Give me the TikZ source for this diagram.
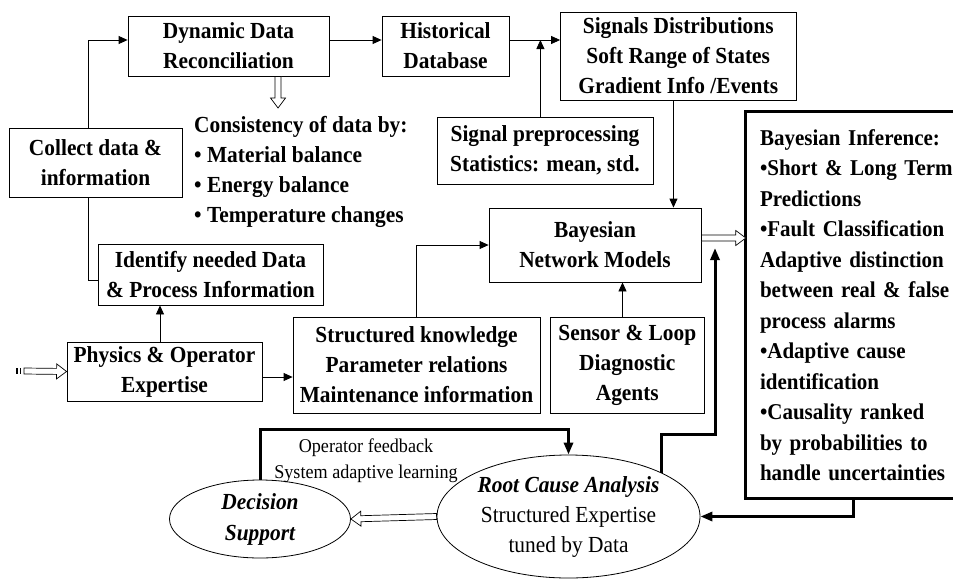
\documentclass[tikz,border=0pt]{standalone}
\usepackage{fontspec}
\setmainfont{Liberation Serif}[FakeStretch=0.93]
\usetikzlibrary{arrows.meta,calc,shapes.geometric}

% open block arrow between two points
\newcommand{\fatarrow}[2]{%
  \draw[hollow] let \p1=(#1), \p2=(#2),
      \n1={atan2(\y2-\y1,\x2-\x1)}, \n2={veclen(\x2-\x1,\y2-\y1)} in
    [shift={(\p1)},rotate=\n1]
    (0pt,-3pt) -- ({\n2*1pt-10pt},-3pt) -- ({\n2*1pt-10pt},-7.5pt)
    -- ({\n2*1pt},0pt) -- ({\n2*1pt-10pt},7.5pt) -- ({\n2*1pt-10pt},3pt)
    -- (0pt,3pt) -- cycle;}

\begin{document}
\begin{tikzpicture}[x=1pt,y=-1pt,
    box/.style={draw,line width=0.8pt,inner sep=2pt,align=center,
        font=\fontsize{23}{30}\selectfont\bfseries},
    infobox/.style={inner xsep=14pt,align=left,
        font=\fontsize{22.6}{30.5}\selectfont\bfseries},
    frame/.style={line width=3pt,line join=miter},
    oval/.style={draw,ellipse,line width=0.8pt,inner sep=0pt,align=center,
        font=\fontsize{23}{30}\selectfont},
    note/.style={align=left,inner xsep=0pt,inner ysep=8pt,
        font=\fontsize{23}{30}\selectfont\bfseries},
    flow/.style={-{Triangle[length=9pt,width=8pt]},line width=0.8pt},
    heavy/.style={-{Triangle[length=12pt,width=9pt]},line width=3pt},
    branch/.style={line width=0.8pt},
    hollow/.style={draw,fill=white,line width=0.7pt,line join=miter}
]
    \useasboundingbox (0,0) rectangle (953,579);
    \clip (0,0) rectangle (953,579);

    % upper row
    \node[box,minimum width=201pt,minimum height=60pt] (ddr) at (228.5,46)
        {Dynamic Data\\Reconciliation};
    \node[box,minimum width=127pt,minimum height=60pt] (hist) at (445.5,46)
        {Historical\\Database};
    \node[box,minimum width=235.5pt,minimum height=88pt] (sig) at (678.25,56)
        {Signals Distributions\\Soft Range of States\\Gradient Info /Events};
    \node[box,minimum width=216pt,minimum height=67pt] (prep) at (545,150.5)
        {Signal preprocessing\\Statistics: mean, std.};
    \node[note,anchor=north west] (cons) at (194,108)
        {Consistency of data by:\\• Material balance\\• Energy balance\\• Temperature changes};

    % left column
    \node[box,minimum width=173pt,minimum height=69pt] (collect) at (95.5,162.5)
        {Collect data \&\\information};
    \node[box,minimum width=225pt,minimum height=61pt] (ident) at (210.5,274.5)
        {Identify needed Data\\\& Process Information};
    \node[box,minimum width=195pt,minimum height=59pt] (phys) at (164.5,371.5)
        {Physics \& Operator\\Expertise};

    % middle
    \node[box,minimum width=247pt,minimum height=96pt] (struct) at (416.5,365)
        {Structured knowledge\\Parameter relations\\Maintenance information};
    \node[box,minimum width=212pt,minimum height=74pt] (bnm) at (595,245)
        {Bayesian\\Network Models};
    \node[box,minimum width=153.4pt,minimum height=96pt] (sens) at (627.3,365)
        {Sensor \& Loop\\Diagnostic\\Agents};
    % inference box runs off the right edge
    \node[infobox,minimum width=228pt,minimum height=386pt,text width=200pt] (infer) at (860,305)
        {Bayesian Inference:\\•Short \& Long Term\\Predictions\\•Fault Classification\\
         Adaptive distinction\\between real \& false\\process alarms\\•Adaptive cause\\
         identification\\•Causality ranked\\by probabilities to\\handle uncertainties};
    \draw[frame] (infer.north east) -- (infer.north west)
        -- (infer.south west) -- (infer.south east);

    % lower row
    \node[oval,minimum width=263pt,minimum height=123pt] (rca) at (568.5,516.5)
        {\textbf{\textit{Root Cause Analysis}}\\Structured Expertise\\tuned by Data};
    \node[oval,minimum width=181pt,minimum height=78pt,font=\fontsize{23}{31}\selectfont\bfseries\itshape]
        (dec) at (260,519) {Decision\\Support};
    \node[align=center,font=\fontsize{19.5}{26}\selectfont] (learn) at (366,461)
        {Operator feedback\\System adaptive learning};

    \coordinate (src) at (24,371);
    \coordinate (upend) at (715,248);

    % connectors
    \draw[flow] ([xshift=-7.5pt]collect.north) |- ([yshift=6pt]ddr.west);
    \draw[branch] ([xshift=-7.5pt]collect.south) |- ([yshift=-5.5pt]ident.west);
    \draw[flow] ([xshift=-4.5pt]phys.north) -- ([xshift=-4.5pt]phys.north |- ident.south);
    \draw[flow] ([yshift=-5.5pt]phys.east) -- ([yshift=-5.5pt]phys.east -| struct.west);
    \draw[flow] ([yshift=6pt]ddr.east) -- ([yshift=6pt]hist.west);
    \draw[flow] ([yshift=6pt]hist.east) coordinate (h) -- (h -| sig.west);
    \draw[flow] ([xshift=-4.6pt]prep.north) -- ([xshift=-4.6pt]prep.north |- h);
    \draw[flow] ([xshift=-4.8pt]sig.south) -- ([xshift=-4.8pt]sig.south |- bnm.north);
    \draw[flow] (struct.north) |- (bnm.west);
    \draw[flow] ([xshift=-4.8pt]sens.north) -- ([xshift=-4.8pt]sens.north |- bnm.south);

    \draw[heavy] (rca.north east) -- ++(0,-38) -| (upend);
    \draw[heavy] ([xshift=-7pt]infer.south) |- (rca.east);
    \draw[heavy] (dec.north) -- ++(0,-50) -| (rca.north);

    \fatarrow{[xshift=49.5pt]ddr.south}{[xshift=49.5pt]ddr.south |- cons.north}
    \fatarrow{[yshift=7pt]bnm.east}{[yshift=7pt]bnm.east -| infer.west}
    \fatarrow{rca.west}{dec.east}
    \fatarrow{src}{phys.west}
    \fill ([xshift=-8pt,yshift=-3pt]src) rectangle ([xshift=-6.5pt,yshift=3pt]src);
    \fill ([xshift=-4.5pt,yshift=-3pt]src) rectangle ([xshift=-3pt,yshift=3pt]src);
\end{tikzpicture}
\end{document}
